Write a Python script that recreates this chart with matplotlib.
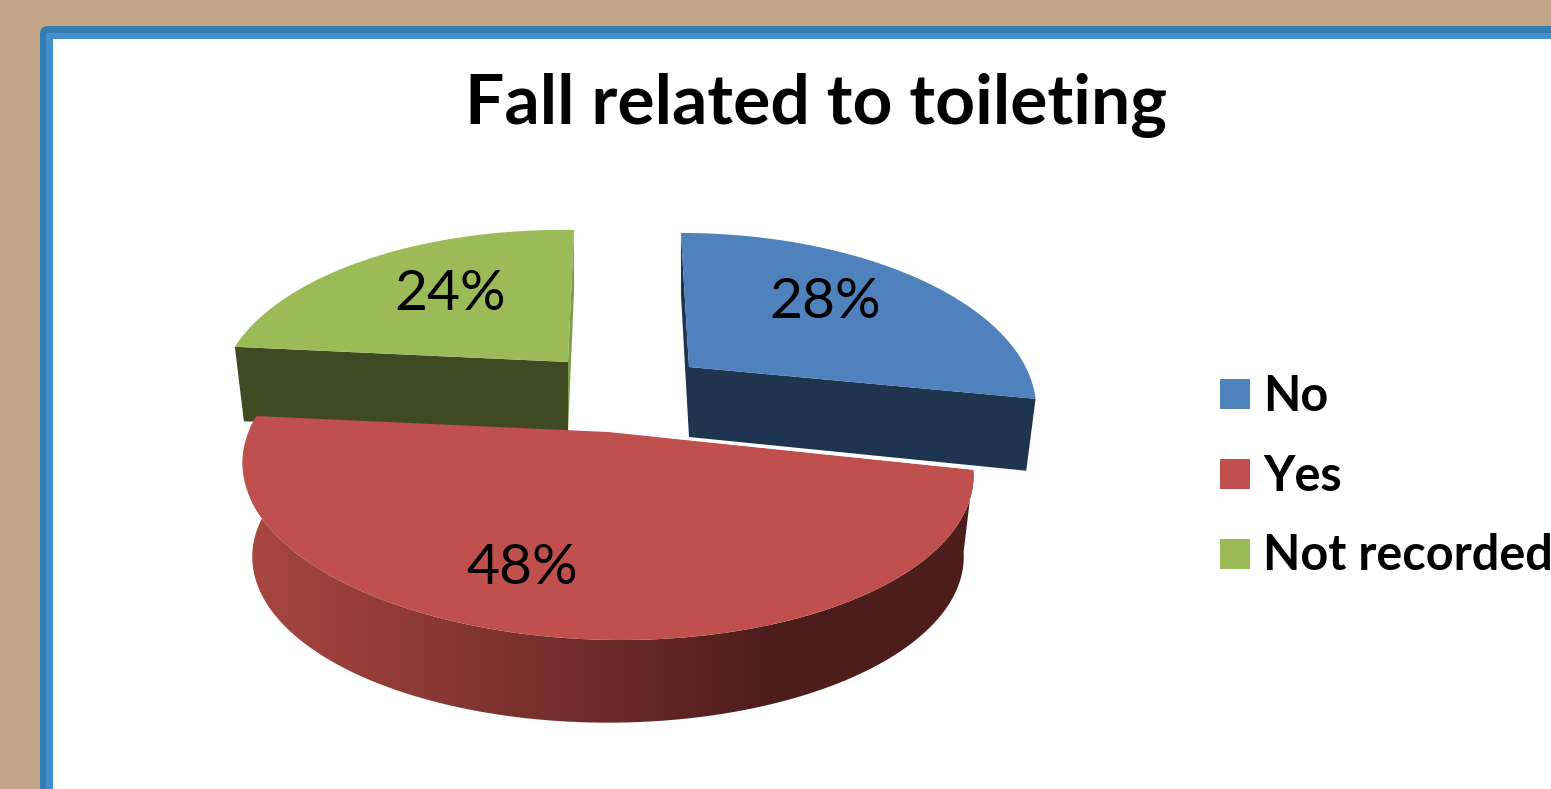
import numpy as np
import matplotlib
matplotlib.use("Agg")
import matplotlib.pyplot as plt
from matplotlib.colors import LinearSegmentedColormap
from matplotlib.patches import FancyBboxPatch, Polygon, Rectangle

plt.rcParams['font.family'] = ['Lato', 'DejaVu Sans']

# chart data
title = "Fall related to toileting"
categories = ["No", "Yes", "Not recorded"]
values = [28, 48, 24]

# face, radial wall, cut wall colours for each slice
TOP_COLORS = ["#4f81bd", "#c0504d", "#9bbb59"]
FRONT_COLORS = ["#1f344e", None, "#404a22"]
SIDE_COLORS = ["#1f344e", None, "#7f9a48"]

# perspective of the pie, in pixels
PERSP = 0.216
RX = 357
RY = 163
FLOOR_X = 0.973

# apex position and per slice tweaks (exploded ones sit further back)
APEX = [(689, 367), (608, 432), (568, 362)]
SCALE = [0.943, 1.0, 0.949]
SCALE_Y = [1.0, 1.0, 0.985]
SHEAR = [0.06, 0.0, -0.045]
TILT = [0.0, 0.0165, 0.015]
FLOOR_Y = [1.06, 0.97, 1.06]
DEPTH = [70, 89, 70]


def rim(theta, i, floor=False):
    # rim point(s) of slice i, theta clockwise from 12 o'clock in radians
    u = np.sin(theta)
    v = -np.cos(theta)
    w = 1 - PERSP * v
    x = RX * u / w
    y = RY * v / w
    ax, ay = APEX[i]
    if floor:
        return np.column_stack((ax + SCALE[i] * FLOOR_X * x + SHEAR[i] * y,
                                ay + FLOOR_Y[i] * y + DEPTH[i]))
    return np.column_stack((ax + SCALE[i] * x + SHEAR[i] * y,
                            ay + SCALE_Y[i] * y + TILT[i] * x))


def apex(i, floor=False):
    ax, ay = APEX[i]
    return np.array([[ax, ay + DEPTH[i] if floor else ay]], dtype=float)


def radial_wall(theta, i):
    t = np.array([theta])
    return np.vstack((apex(i), rim(t, i), rim(t, i, True), apex(i, True)))


fig = plt.figure(figsize=(15.51, 7.89), dpi=100, facecolor="#c3a688")
ax = fig.add_axes([0, 0, 1, 1])
ax.axis("off")

# slide frame, runs off the right and bottom edges
ax.add_patch(FancyBboxPatch((46, 32), 1700, 900,
                            boxstyle="round,pad=6,rounding_size=8",
                            fc="#357cb0", ec="none"))
ax.add_patch(Rectangle((46, 33), 1700, 900, fc="#418fcf", ec="none"))
ax.add_patch(Rectangle((53, 39), 1700, 900, fc="white", ec="none"))

edges = np.cumsum([0] + values) / sum(values) * 2 * np.pi
arcs = [np.linspace(edges[i], edges[i + 1], 120) for i in range(len(values))]

# exploded slices first, the big one sits on top of them
for i in (0, 2):
    ax.add_patch(Polygon(radial_wall(edges[i] if i == 0 else edges[i + 1], i),
                         fc=SIDE_COLORS[i], ec="none", zorder=2))
    ax.add_patch(Polygon(radial_wall(edges[i + 1] if i == 0 else edges[i], i),
                         fc=FRONT_COLORS[i], ec="none", zorder=2))
    ax.add_patch(Polygon(np.vstack((apex(i), rim(arcs[i], i))),
                         fc=TOP_COLORS[i], ec="none", zorder=3))

# outer wall of the big slice gets a left to right shade
wall_cmap = LinearSegmentedColormap.from_list(
    "wall", [(0, "#a8463f"), (0.22, "#8e3a36"), (0.5, "#6a2a28"),
             (0.72, "#4d1d1b"), (1, "#4d1d1b")])
wall = Polygon(np.vstack((rim(arcs[1], 1), rim(arcs[1], 1, True)[::-1])),
               fc="none", ec="none", zorder=4)
ax.add_patch(wall)
shade = ax.imshow(np.linspace(0, 1, 256)[None, :], cmap=wall_cmap,
                  extent=(250, 975, 730, 420), aspect="auto", zorder=4)
shade.set_clip_path(wall)

ax.add_patch(Polygon(np.vstack((apex(1), rim(arcs[1], 1))),
                     fc=TOP_COLORS[1], ec="none", zorder=5))
right_end = rim(arcs[1][:1], 1)
slope = (right_end[0, 1] - APEX[1][1]) / (right_end[0, 0] - APEX[1][0])
ax.plot([APEX[1][0] + 60, right_end[0, 0] - 2],
        [APEX[1][1] + 60 * slope - 1.5, right_end[0, 1] - 1.5],
        color="white", lw=1.6, zorder=6)

# percentage labels
label_pos = [(825, 302), (522, 569), (450, 294)]
for v, (lx, ly) in zip(values, label_pos):
    ax.text(lx, ly, f"{v}%", fontsize=41, color="black",
            ha="center", va="center", zorder=7)

ax.text(816, 105, title, fontsize=50, fontweight="bold", color="black",
        ha="center", va="center")

# legend
legend_y = [396, 476, 556]
for name, color, ly in zip(categories, TOP_COLORS, legend_y):
    ax.add_patch(Rectangle((1220, ly - 17), 30, 30, fc=color, ec="none"))
    ax.text(1263, ly, name, fontsize=35, fontweight="bold", color="black",
            ha="left", va="center")

ax.set_xlim(0, 1551)
ax.set_ylim(789, 0)

plt.savefig("out.png", dpi=100, facecolor=fig.get_facecolor())
